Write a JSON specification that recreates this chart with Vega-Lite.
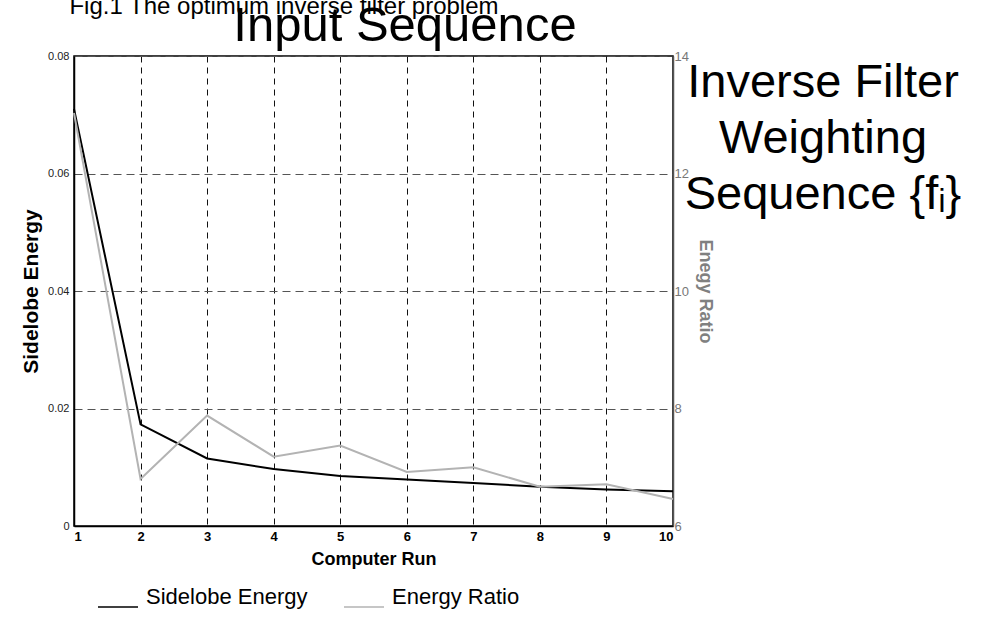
{
  "$schema": "https://vega.github.io/schema/vega-lite/v6.json",
  "width": 599,
  "height": 470,
  "autosize": "none",
  "padding": {"left": 74, "top": 56, "right": 308, "bottom": 104},
  "background": "white",
  "config": {
    "font": "Liberation Sans",
    "view": {"stroke": "black", "strokeWidth": 1.5},
    "legend": {"padding": 0}
  },
  "datasets": {
    "series": [
      {"run": 1, "series": "Sidelobe Energy", "value": 0.0710},
      {"run": 2, "series": "Sidelobe Energy", "value": 0.0173},
      {"run": 3, "series": "Sidelobe Energy", "value": 0.0115},
      {"run": 4, "series": "Sidelobe Energy", "value": 0.0097},
      {"run": 5, "series": "Sidelobe Energy", "value": 0.0085},
      {"run": 6, "series": "Sidelobe Energy", "value": 0.0079},
      {"run": 7, "series": "Sidelobe Energy", "value": 0.0073},
      {"run": 8, "series": "Sidelobe Energy", "value": 0.0067},
      {"run": 9, "series": "Sidelobe Energy", "value": 0.0062},
      {"run": 10, "series": "Sidelobe Energy", "value": 0.0059},
      {"run": 1, "series": "Energy Ratio", "value": 13.03},
      {"run": 2, "series": "Energy Ratio", "value": 6.80},
      {"run": 3, "series": "Energy Ratio", "value": 7.88},
      {"run": 4, "series": "Energy Ratio", "value": 7.18},
      {"run": 5, "series": "Energy Ratio", "value": 7.37},
      {"run": 6, "series": "Energy Ratio", "value": 6.92},
      {"run": 7, "series": "Energy Ratio", "value": 7.00},
      {"run": 8, "series": "Energy Ratio", "value": 6.67},
      {"run": 9, "series": "Energy Ratio", "value": 6.71},
      {"run": 10, "series": "Energy Ratio", "value": 6.46}
    ],
    "figtitle": [{"label": "Fig.1 The optimum inverse filter problem"}],
    "inputtitle": [{"label": "Input Sequence"}],
    "sidetext": [{"label": "Inverse Filter\nWeighting\nSequence {fᵢ}"}]
  },
  "layer": [
    {
      "layer": [
        {
          "data": {"name": "series"},
          "transform": [{"filter": "datum.series == 'Sidelobe Energy'"}],
          "mark": {"type": "line", "strokeWidth": 2},
          "encoding": {
            "x": {
              "field": "run",
              "type": "quantitative",
              "scale": {"domain": [1, 10], "nice": false, "zero": false},
              "axis": {
                "title": "Computer Run",
                "values": [1, 2, 3, 4, 5, 6, 7, 8, 9, 10],
                "format": "d",
                "labelFontSize": 13,
                "labelFontWeight": "bold",
                "labelColor": "black",
                "labelPadding": 4,
                "ticks": false,
                "domainColor": "black",
                "domainWidth": 1.5,
                "grid": true,
                "gridColor": "#111111",
                "gridDash": [6, 5],
                "gridWidth": 1,
                "gridOpacity": 1,
                "titleFontSize": 18,
                "titleFontWeight": "bold",
                "titleColor": "black",
                "titlePadding": 7
              }
            },
            "y": {
              "field": "value",
              "type": "quantitative",
              "scale": {"domain": [0, 0.08], "nice": false},
              "axis": {
                "title": "Sidelobe Energy",
                "values": [0, 0.02, 0.04, 0.06, 0.08],
                "format": "~g",
                "labelFontSize": 11,
                "labelColor": "#222222",
                "labelPadding": 5,
                "ticks": false,
                "domainColor": "black",
                "domainWidth": 1.5,
                "grid": true,
                "gridColor": "#555555",
                "gridDash": [8, 5],
                "gridWidth": 1,
                "gridOpacity": 1,
                "titleFontSize": 21,
                "titleFontWeight": "bold",
                "titleColor": "black",
                "titlePadding": 6
              }
            },
            "color": {
              "field": "series",
              "type": "nominal",
              "scale": {"domain": ["Sidelobe Energy", "Energy Ratio"], "range": ["#000000", "#b3b3b3"]},
              "legend": {
                "orient": "none",
                "legendX": 23,
                "legendY": 520,
                "direction": "horizontal",
                "title": null,
                "symbolType": "M-1,0.5H1",
                "symbolSize": 1600,
                "symbolStrokeWidth": 1.5,
                "labelFontSize": 22,
                "labelColor": "black",
                "labelOffset": 7,
                "labelLimit": 400,
                "columnPadding": 33
              }
            }
          }
        },
        {
          "data": {"name": "figtitle"},
          "mark": {"type": "text", "fontSize": 24, "align": "center", "baseline": "alphabetic", "color": "black"},
          "encoding": {
            "text": {"field": "label"},
            "x": {"datum": 4.155, "type": "quantitative"},
            "y": {"datum": 0.0871, "type": "quantitative"}
          }
        },
        {
          "data": {"name": "inputtitle"},
          "mark": {"type": "text", "fontSize": 49, "align": "center", "baseline": "alphabetic", "color": "black"},
          "encoding": {
            "text": {"field": "label"},
            "x": {"datum": 5.973, "type": "quantitative"},
            "y": {"datum": 0.0826, "type": "quantitative"}
          }
        },
        {
          "data": {"name": "sidetext"},
          "mark": {"type": "text", "fontSize": 47, "align": "center", "baseline": "alphabetic", "color": "black", "lineBreak": "\n", "lineHeight": 56},
          "encoding": {
            "text": {"field": "label"},
            "x": {"datum": 12.254, "type": "quantitative"},
            "y": {"datum": 0.0730, "type": "quantitative"}
          }
        }
      ]
    },
    {
      "data": {"name": "series"},
      "transform": [{"filter": "datum.series == 'Energy Ratio'"}],
      "mark": {"type": "line", "strokeWidth": 2},
      "encoding": {
        "x": {"field": "run", "type": "quantitative"},
        "y": {
          "field": "value",
          "type": "quantitative",
          "scale": {"domain": [6, 14], "nice": false, "zero": false},
          "axis": {
            "orient": "right",
            "title": "Enegy Ratio",
            "values": [6, 8, 10, 12, 14],
            "labelFontSize": 13,
            "labelColor": "#777777",
            "labelPadding": 1,
            "ticks": false,
            "domainColor": "#555555",
            "domainWidth": 1.5,
            "grid": false,
            "titleFontSize": 18,
            "titleFontWeight": "bold",
            "titleColor": "#808080",
            "titlePadding": 7
          }
        },
        "color": {"field": "series", "type": "nominal"}
      }
    }
  ],
  "resolve": {"scale": {"y": "independent"}}
}
